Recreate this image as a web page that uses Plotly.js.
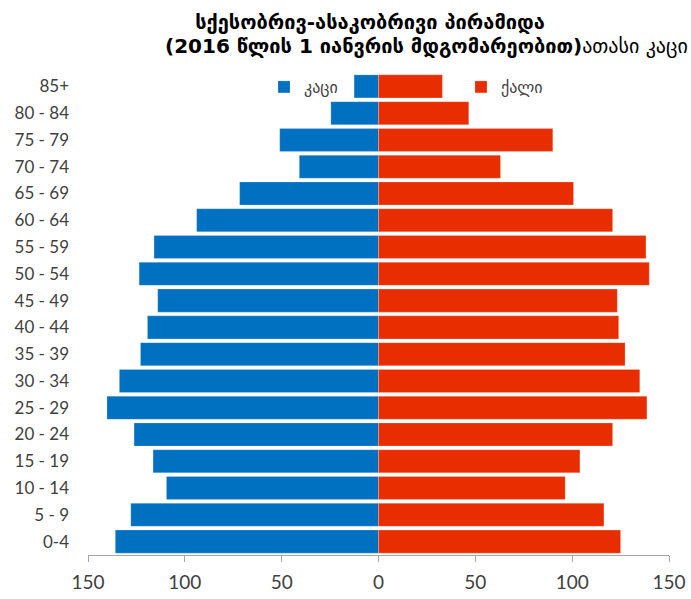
<!DOCTYPE html>
<html>
<head>
<meta charset="utf-8">
<script src="https://cdn.plot.ly/plotly-3.0.1.min.js"></script>
<style>html,body{margin:0;padding:0;background:#fff;}#chart{width:691px;height:599px;}</style>
</head>
<body>
<div id="chart"></div>
<script>
// Age groups (bottom to top)
const ageGroups = ["0-4","5 - 9","10 - 14","15 - 19","20 - 24","25 - 29","30 - 34","35 - 39","40 - 44","45 - 49","50 - 54","55 - 59","60 - 64","65 - 69","70 - 74","75 - 79","80 - 84","85+"];
// thousand persons
const males   = [135.9,127.9,109.5,116.4,126.2,140.2,133.8,122.9,119.3,114.0,123.6,115.9,93.9,71.7,40.9,51.0,24.6,12.6];
const females = [125.0,116.4,96.4,104.0,120.9,138.6,134.9,127.3,124.0,123.3,139.8,138.1,120.9,100.7,63.0,90.0,46.6,33.0];
const maleName = "კაცი";
const femaleName = "ქალი";
const tickVals = [-150,-100,-50,0,50,100,150];
const tickText = ["150","100","50","0","50","100","150"];
const titleLine1 = "სქესობრივ-ასაკობრივი პირამიდა";
const titleLine2Bold = "(2016 წლის 1 იანვრის მდგომარეობით)";
const titleLine2Rest = "ათასი კაცი";

const geo = "DejaVu Sans";
const traces = [
  {type:"bar", orientation:"h", y: ageGroups, x: males.map(v => -v), name: maleName,
   marker:{color:"#0070C0", line:{color:"rgba(255,255,255,0.35)", width:0.6}},
   hoverinfo:"y+text", text: males.map(v=>String(v)), textposition:"none", legend:"legend"},
  {type:"bar", orientation:"h", y: ageGroups, x: females, name: femaleName,
   marker:{color:"#E82E00", line:{color:"rgba(255,255,255,0.35)", width:0.6}},
   hoverinfo:"y+x", legend:"legend2"}
];

const layout = {
  width:691, height:599,
  margin:{l:88, r:22, t:73, b:44},
  paper_bgcolor:"#fff", plot_bgcolor:"#fff",
  barmode:"relative", bargap:0.14,
  font:{family:"Lato, sans-serif", color:"#404040"},
  title:{text:"<b>"+titleLine1+"</b>", x:370/691, xanchor:"center", y:1-22/599, yanchor:"middle",
         font:{family:geo, size:20, color:"#000"}},
  annotations:[
    {xref:"paper", yref:"paper", x:(163-88)/581, y:(555-46)/482, xanchor:"left", yanchor:"middle",
     showarrow:false, text:"<b>"+titleLine2Bold+"</b>"+titleLine2Rest, font:{family:geo, size:20, color:"#000"}}
  ],
  xaxis:{range:[-150,150], tickvals:tickVals, ticktext:tickText, showgrid:false, zeroline:false,
         showline:true, linecolor:"#a6a6a6", linewidth:1, ticks:"outside", ticklen:6, tickcolor:"#a6a6a6",
         ticklabelstandoff:4, tickfont:{family:"Lato", size:19, color:"#404040"}, fixedrange:true},
  yaxis:{type:"category", showgrid:false, zeroline:false, showline:false, ticks:"",
         ticklabelstandoff:18, tickfont:{family:"Lato", size:17, color:"#404040"}, fixedrange:true},
  showlegend:true,
  legend:{orientation:"h", x:(264-88)/581, y:(555-87)/482, xanchor:"left", yanchor:"middle",
          bgcolor:"rgba(0,0,0,0)", font:{family:geo, size:16, color:"#404040"}, itemwidth:30},
  legend2:{orientation:"h", x:(461-88)/581, y:(555-87)/482, xanchor:"left", yanchor:"middle",
          bgcolor:"rgba(0,0,0,0)", font:{family:geo, size:16, color:"#404040"}, itemwidth:30}
};

Plotly.newPlot("chart", traces, layout, {displayModeBar:false, staticPlot:true});
</script>
</body>
</html>
